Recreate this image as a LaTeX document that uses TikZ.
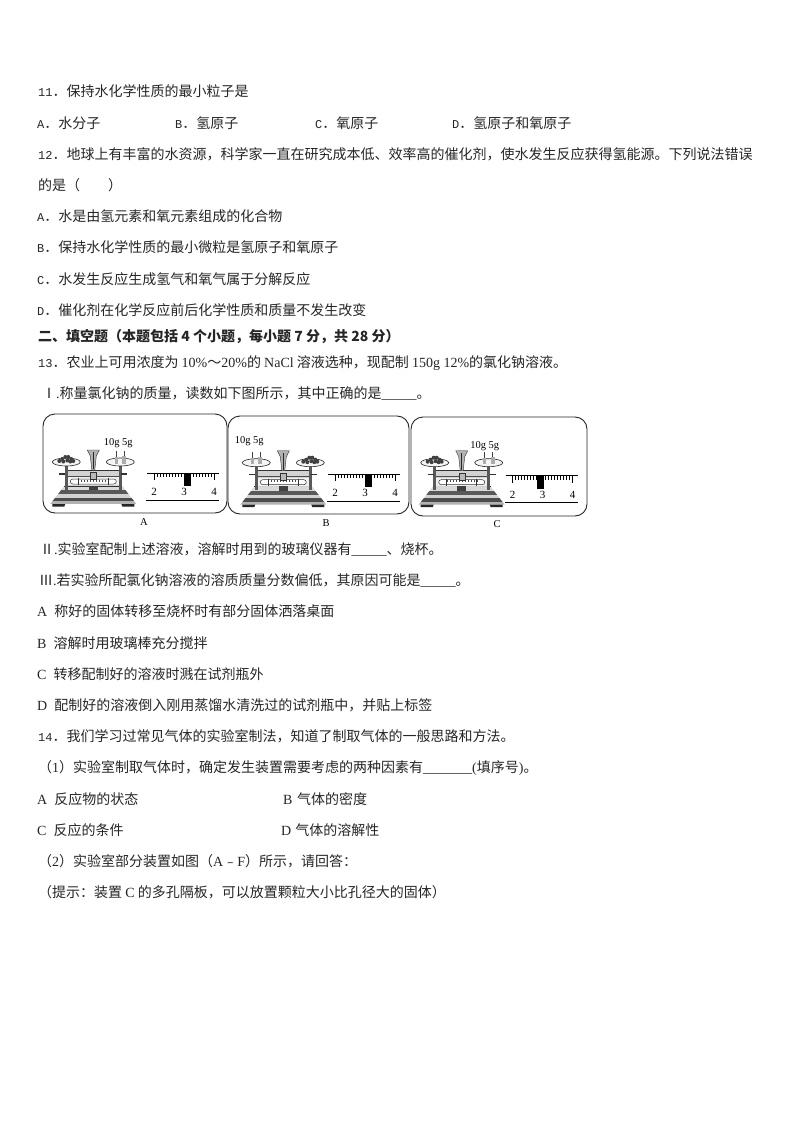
\documentclass[tikz,border=0pt]{standalone}
\usepackage{fontspec}
\setmainfont{Noto Sans CJK SC}
\newfontfamily\latinfont{Liberation Serif}
\newfontfamily\monofont{Liberation Mono}
\newcommand{\tm}[1]{{\latinfont #1}}
\newcommand{\mn}[1]{{\monofont\fontsize{12}{12}\selectfont #1}}
\tikzset{
	qline/.style={anchor=base west,inner sep=0pt,font=\fontsize{14}{14}\selectfont,text=black!85},
	panel/.style={draw=black!85,line width=0.9pt,rounded corners=12pt},
	rulerline/.style={draw=black,line width=0.9pt},
	figlabel/.style={inner sep=0pt,font=\latinfont\fontsize{10.5}{10.5}\selectfont},
	numlabel/.style={inner sep=0pt,font=\latinfont\fontsize{11}{11}\selectfont},
}
\newcommand{\balancefig}[9]{
	\begin{scope}[shift={(#2,#3)}]
		\begin{scope}
			\clip (-29,0) -- (29,0) -- (43,18) -- (-43,18) -- cycle;
			\fill[gray!30] (-44,0) rectangle (44,4);
			\fill[black!65] (-44,4) rectangle (44,8);
			\fill[gray!35] (-44,8) rectangle (44,11.5);
			\fill[black!70] (-44,11.5) rectangle (44,15);
			\fill[gray!60] (-44,15) rectangle (44,18);
		\end{scope}
		\draw[black!80,line width=0.5pt] (-29,0) -- (29,0);
		\fill[black!85] (-41,18) -- (-28,18) -- (-29,20.5) -- (-41,20.5) -- cycle;
		\fill[black!85] (41,18) -- (28,18) -- (29,20.5) -- (41,20.5) -- cycle;
		\fill[gray!35] (-27,-16) rectangle (27,0);
		\fill[gray!12] (-27,-9) rectangle (27,-1);
		\draw[black!80,line width=0.6pt] (-27,-16) -- (27,-16);
		\draw[black!70,line width=0.5pt] (-27,-10) -- (-3,-10);
		\draw[black!70,line width=0.5pt] (3,-10) -- (27,-10);
		\draw[black!80,fill=white,line width=0.5pt,rounded corners=2.5pt] (-23,-7) rectangle (23,-2);
		\foreach \tk in {-15,-12,...,15}
			\draw[black!70,line width=0.4pt] (\tk,-6.5) -- (\tk,-4.5);
		\draw[black!80,line width=0.8pt] (-15,-8) -- (-15,-1);
		\draw[black!80,line width=0.8pt] (15,-8) -- (15,-1);
		\draw[black!80,fill=gray!55,line width=0.4pt] (-3,-14) rectangle (3,-7);
		\fill[black!75] (-4.5,-0.5) rectangle (4.5,4);
		\draw[black!80,fill=gray!60,line width=0.4pt] (-6,-36) -- (6,-36) -- (3,-30) -- (1.5,-16) -- (-1.5,-16) -- (-3,-30) -- cycle;
		\fill[black!85] (-0.5,-34) rectangle (0.5,-17);
		\fill[black!65] (-28.4,-24) rectangle (-25.6,3.5);
		\fill[black!65] (25.6,-24) rectangle (28.4,3.5);
		\draw[black!80,line width=1.1pt] (-34,-12) -- (-28,-12);
		\draw[black!80,line width=1.1pt] (28,-12) -- (34,-12);
		\draw[black!85,fill=gray!8,line width=0.6pt] (-27,-24) ellipse (14 and 4);
		\draw[black!85,fill=gray!8,line width=0.6pt] (27,-24) ellipse (14 and 4);
		\foreach \fx/\fy in {-7/-25,-4/-27,-1/-29,2/-29,5/-27,7/-25,-3/-24.5,1/-25.5,4/-24.5}
			\fill[black!75] ({-(#4)*27+\fx},\fy) circle (2);
		\fill[gray!65] ({(#4)*27-5.8},-29) rectangle ({(#4)*27-2.8},-22.5);
		\fill[gray!65] ({(#4)*27+2},-30) rectangle ({(#4)*27+6},-22.5);
		\draw[black!75,line width=0.5pt] ({(#4)*27-4.3},-35) -- ({(#4)*27-4.3},-29);
		\draw[black!75,line width=0.5pt] ({(#4)*27+4},-35) -- ({(#4)*27+4},-30);
	\end{scope}
	\node[figlabel] (#1wt) at ({#2+#5},{#3-#6}) {10g 5g};
	\begin{scope}[shift={(#7,#8)}]
		\draw[rulerline] (-7,0) -- (65,0);
		\draw[rulerline] (-8,27) -- (65,27);
		\draw[black,line width=0.8pt] (0,0) -- (0,7);
		\draw[black,line width=0.8pt] (60,0) -- (60,7);
		\foreach \tk in {3,6,...,57}
			\draw[black,line width=0.5pt] (\tk,0) -- (\tk,4);
		\fill[black] ({30+#9},0) rectangle ({37+#9},13);
		\node[numlabel] (#1two) at (0,19) {2};
		\node[numlabel] (#1three) at (30,19) {3};
		\node[numlabel] (#1four) at (60,19) {4};
	\end{scope}
}
\begin{document}
\begin{tikzpicture}[x=1pt,y=-1pt]
	\useasboundingbox (0,0) rectangle (794,1123);
	\fill[white] (0,0) rectangle (794,1123);
	\node[qline] (qeleven) at (38,97) {\mn{11}．保持水化学性质的最小粒子是};
	\node[qline] (qelevenA) at (37,129) {\mn{A}．水分子};
	\node[qline] (qelevenB) at (175,129) {\mn{B}．氢原子};
	\node[qline] (qelevenC) at (315,129) {\mn{C}．氧原子};
	\node[qline] (qelevenD) at (452,129) {\mn{D}．氢原子和氧原子};
	\node[qline] (qtwelve) at (38,160) {\mn{12}．地球上有丰富的水资源，科学家一直在研究成本低、效率高的催化剂，使水发生反应获得氢能源。下列说法错误};
	\node[qline] (qtwelvecont) at (38,191) {的是（　　）};
	\node[qline] (qtwelveA) at (37,222) {\mn{A}．水是由氢元素和氧元素组成的化合物};
	\node[qline] (qtwelveB) at (37,252) {\mn{B}．保持水化学性质的最小微粒是氢原子和氧原子};
	\node[qline] (qtwelveC) at (37,284) {\mn{C}．水发生反应生成氢气和氧气属于分解反应};
	\node[qline] (qtwelveD) at (37,315) {\mn{D}．催化剂在化学反应前后化学性质和质量不发生改变};
	\node[qline,font=\bfseries\fontsize{14}{14}\selectfont] (section) at (38,341) {二、填空题（本题包括 4 个小题，每小题 7 分，共 28 分）};
	\node[qline] (qthirteen) at (38,367) {\mn{13}．农业上可用浓度为 \tm{10\%}～\tm{20\%}的 \tm{NaCl} 溶液选种，现配制 \tm{150g 12\%}的氯化钠溶液。};
	\node[qline] (partone) at (42,398) {Ⅰ\tm{.}称量氯化钠的质量，读数如下图所示，其中正确的是\tm{\_\_\_\_\_}。};
	\draw[panel] (43,414) rectangle (227,513);
	\draw[panel] (228,416) rectangle (409,514);
	\draw[panel] (411,417) rectangle (587,516);
	\balancefig{a}{93.3}{486}{1}{25}{43}{154}{473}{0}
	\balancefig{b}{283.3}{486.7}{-1}{-34}{45.7}{335}{474}{0}
	\balancefig{c}{461.7}{486.7}{1}{23}{40.7}{512.5}{475.7}{-5.6}
	\node[figlabel] (labelA) at (144,522) {A};
	\node[figlabel] (labelB) at (326,523) {B};
	\node[figlabel] (labelC) at (497,524) {C};
	\node[qline] (parttwo) at (40,554) {Ⅱ\tm{.}实验室配制上述溶液，溶解时用到的玻璃仪器有\tm{\_\_\_\_\_}、烧杯。};
	\node[qline] (partthree) at (39,585) {Ⅲ\tm{.}若实验所配氯化钠溶液的溶质质量分数偏低，其原因可能是\tm{\_\_\_\_\_}。};
	\node[qline] (optA) at (37,616) {\tm{A}\enspace 称好的固体转移至烧杯时有部分固体洒落桌面};
	\node[qline] (optB) at (37,648) {\tm{B}\enspace 溶解时用玻璃棒充分搅拌};
	\node[qline] (optC) at (37,679) {\tm{C}\enspace 转移配制好的溶液时溅在试剂瓶外};
	\node[qline] (optD) at (37,710) {\tm{D}\enspace 配制好的溶液倒入刚用蒸馏水清洗过的试剂瓶中，并贴上标签};
	\node[qline] (qfourteen) at (38,741) {\mn{14}．我们学习过常见气体的实验室制法，知道了制取气体的一般思路和方法。};
	\node[qline] (subone) at (38,772) {（\tm{1}）实验室制取气体时，确定发生装置需要考虑的两种因素有\tm{\_\_\_\_\_\_\_(}填序号\tm{)}。};
	\node[qline] (subA) at (37,804) {\tm{A}\enspace 反应物的状态};
	\node[qline] (subB) at (283,804) {\tm{B}\hspace{4.5pt}气体的密度};
	\node[qline] (subC) at (37,835) {\tm{C}\enspace 反应的条件};
	\node[qline] (subD) at (281,835) {\tm{D}\hspace{4pt}气体的溶解性};
	\node[qline] (subtwo) at (38,866) {（\tm{2}）实验室部分装置如图（\tm{A}﹣\tm{F}）所示，请回答：};
	\node[qline] (hint) at (38,897) {（提示：装置 \tm{C} 的多孔隔板，可以放置颗粒大小比孔径大的固体）};
\end{tikzpicture}
\end{document}
